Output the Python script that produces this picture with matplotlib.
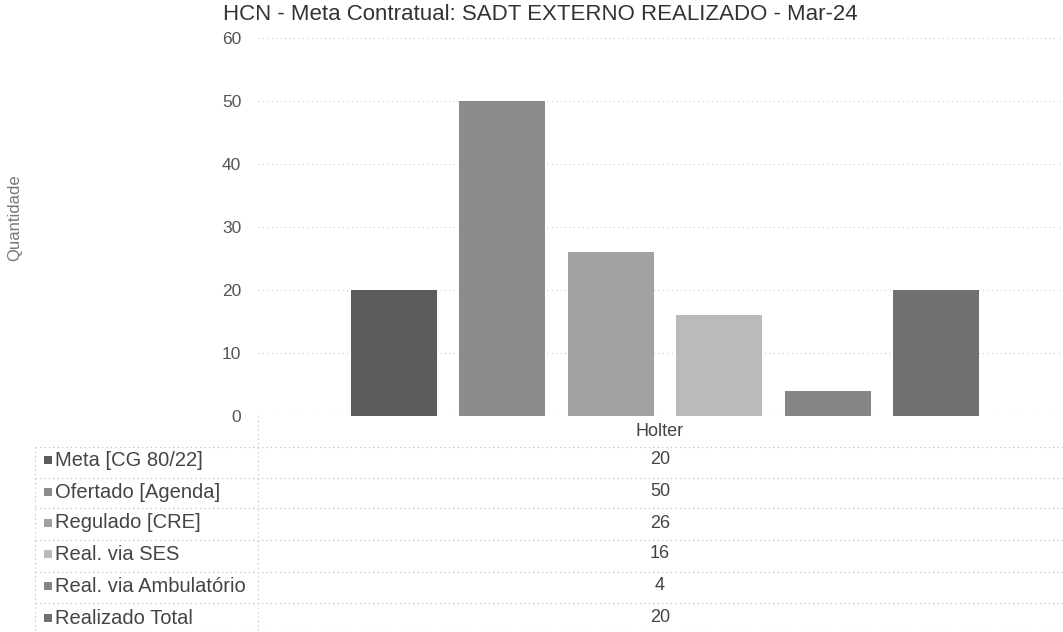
import matplotlib
matplotlib.use("Agg")
import matplotlib.pyplot as plt
from matplotlib.transforms import blended_transform_factory
from matplotlib.patches import Rectangle

plt.rcParams['font.family'] = ['Liberation Sans', 'DejaVu Sans']

title = "HCN - Meta Contratual: SADT EXTERNO REALIZADO - Mar-24"
category = "Holter"
series = ["Meta [CG 80/22]", "Ofertado [Agenda]", "Regulado [CRE]",
          "Real. via SES", "Real. via Ambulatório", "Realizado Total"]
values = [20, 50, 26, 16, 4, 20]
colors = ["#5c5c5c", "#8c8c8c", "#a2a2a2", "#bababa", "#858585", "#707070"]
yticks = [0, 10, 20, 30, 40, 50, 60]
ylabel = "Quantidade"

W, H = 1063, 632
fig = plt.figure(figsize=(W / 100, H / 100), dpi=100)

def fx(px):
    return px / W

def fy(py):
    return 1 - py / H

ax_left, ax_right, ax_top, ax_bot = 258, 1062, 38, 416
ax = fig.add_axes([fx(ax_left), fy(ax_bot), fx(ax_right - ax_left), fy(ax_top) - fy(ax_bot)])
ax.set_xlim(-0.5, 0.5)
ax.set_ylim(0, 60)

pitch = 108.5 / (ax_right - ax_left)
width = 86 / (ax_right - ax_left)
n = len(values)
for i, (v, c) in enumerate(zip(values, colors)):
    xpos = (i - (n - 1) / 2) * pitch + 0.006
    ax.bar(xpos, v, width=width, color=c, edgecolor='none', zorder=3)

for s in ax.spines.values():
    s.set_visible(False)
ax.set_yticks(yticks)
ax.set_yticklabels([str(t) for t in yticks], fontsize=12.5, color="#555555")
ax.tick_params(axis='y', length=0, pad=12)
ax.set_xticks([])
ax.grid(axis='y', linestyle=(0, (1, 3)), color="#c8c8c8", linewidth=0.8, zorder=0)
ax.set_ylabel(ylabel, fontsize=12, color="#777777", labelpad=0)
ax.yaxis.set_label_coords((22 - ax_left) / (ax_right - ax_left), (ax_bot - 218) / (ax_bot - ax_top))

fig.text(fx(540), fy(14), title, ha='center', va='center', fontsize=16, color="#333333")

# Data table
ov = fig.add_axes([0, 0, 1, 1], facecolor='none')
ov.set_xlim(0, W)
ov.set_ylim(H, 0)
ov.axis('off')
dot = dict(linestyle=(0, (1, 3)), color="#b8b8b8", linewidth=0.8)

trans = blended_transform_factory(ax.transData, ov.transData)
ov.text(0.0, 431, category, transform=trans, ha='center', va='center', fontsize=13, color="#444444")

row_lines = [447, 478, 508, 540, 572, 603, 632]
row_centers = [460, 492, 523, 554, 586, 618]
ov.plot([ax_left, ax_left], [ax_bot, 632], **dot)
ov.plot([35, 35], [447, 632], **dot)
for yl in row_lines:
    ov.plot([35, W], [yl, yl], **dot)

for name, v, c, yc in zip(series, values, colors, row_centers):
    ov.add_patch(Rectangle((44, yc - 4), 8, 8, facecolor=c, edgecolor='none'))
    ov.text(55, yc, name, ha='left', va='center', fontsize=14.5, color="#444444")
    ov.text(0.0, yc, str(v), transform=trans, ha='center', va='center', fontsize=13, color="#444444")

fig.savefig("out.png", dpi=100)
